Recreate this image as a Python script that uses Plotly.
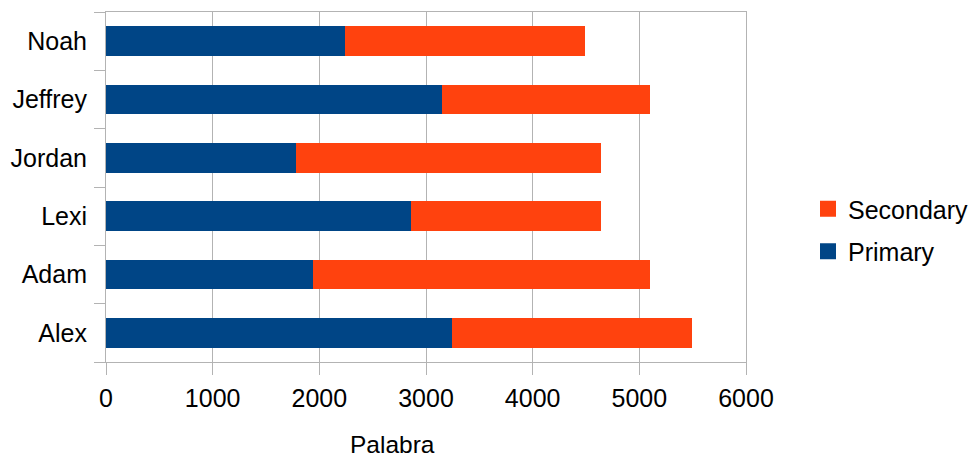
import plotly.graph_objects as go

categories = ["Alex", "Adam", "Lexi", "Jordan", "Jeffrey", "Noah"]
primary = [3240, 1940, 2860, 1780, 3150, 2240]
secondary = [2250, 3160, 1780, 2860, 1950, 2250]
x_ticks = [0, 1000, 2000, 3000, 4000, 5000, 6000]

PRIMARY_COLOR = "#004586"
SECONDARY_COLOR = "#ff420e"
GRID = "#b3b3b3"
FONT = "Liberation Sans, Arial, sans-serif"

fig = go.Figure()
fig.add_trace(go.Bar(y=categories, x=primary, orientation="h", name="Primary",
                     showlegend=False,
                     marker=dict(color=PRIMARY_COLOR, line=dict(width=0))))
fig.add_trace(go.Bar(y=categories, x=secondary, orientation="h", name="Secondary",
                     showlegend=False,
                     marker=dict(color=SECONDARY_COLOR, line=dict(width=0))))
# legend entries (square swatches)
fig.add_trace(go.Scatter(x=[None], y=[None], mode="markers", name="Secondary",
                         legendgroup="s", legendrank=1,
                         marker=dict(symbol="square", size=16, color=SECONDARY_COLOR)))
fig.add_trace(go.Scatter(x=[None], y=[None], mode="markers", name="Primary",
                         legendgroup="p", legendrank=2,
                         marker=dict(symbol="square", size=16, color=PRIMARY_COLOR)))

fig.update_layout(
    width=976, height=457, autosize=False,
    barmode="stack", bargap=0.49,
    plot_bgcolor="white", paper_bgcolor="white",
    margin=dict(l=106, r=230, t=12, b=95),
    font=dict(family=FONT, size=25, color="#000000"),
    legend=dict(xref="container", yref="container", x=808 / 976, xanchor="left",
                y=1 - 230 / 457, yanchor="middle",
                tracegroupgap=7, font=dict(size=25), itemsizing="trace"),
    xaxis=dict(range=[0, 6000], tickvals=x_ticks, showgrid=True, gridcolor=GRID,
               gridwidth=1, showline=True, linecolor=GRID, mirror=True,
               ticks="outside", ticklen=12, tickcolor=GRID, zeroline=False,
               tickfont=dict(size=25), automargin=False, ticklabelstandoff=2),
    yaxis=dict(categoryorder="array", categoryarray=categories, showgrid=False,
               showline=True, linecolor=GRID, mirror=True,
               ticks="outside", ticklen=11, tickcolor=GRID, tickson="boundaries",
               tickfont=dict(size=25), ticklabelstandoff=13, automargin=False),
    annotations=[dict(text="Palabra", xref="paper", yref="paper",
                      x=(392 - 106) / 640, y=(362 - 444) / 350,
                      xanchor="center", yanchor="middle", borderpad=0,
                      showarrow=False, font=dict(size=24.5))],
)

post = ("document.body.style.margin='0';document.body.style.padding='0';"
        "document.body.style.overflow='hidden';"
        "var gd=document.getElementById('{plot_id}');"
        "Plotly.relayout(gd,{width:976,height:457});")

fig.write_html("out.html", config={"responsive": False, "displayModeBar": False},
               post_script=post)
